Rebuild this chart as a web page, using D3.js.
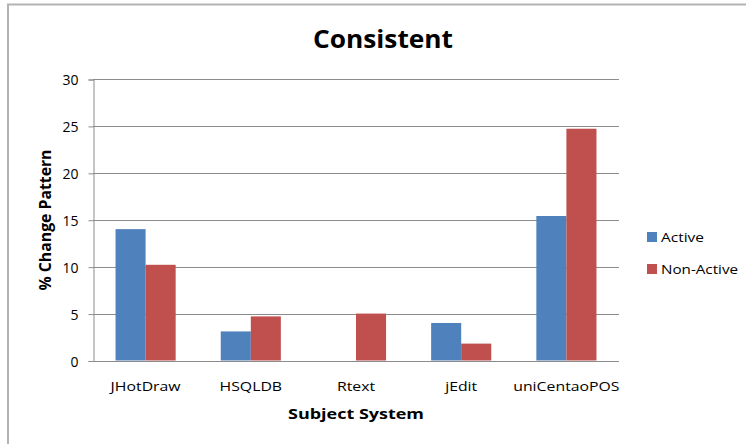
<!DOCTYPE html>
<html>
<head>
<meta charset="utf-8">
<script src="https://cdn.jsdelivr.net/npm/d3@7"></script>
<style>
  html, body { margin: 0; padding: 0; background: #fff; }
  svg { display: block; }
  text { font-family: "Open Sans", "Noto Sans", sans-serif; fill: #000; }
</style>
</head>
<body>
<svg id="chart" width="746" height="444"></svg>
<script>
// Percentage of consistent change patterns per subject system
const categories = ["JHotDraw", "HSQLDB", "Rtext", "jEdit", "uniCentaoPOS"];
const seriesNames = ["Active", "Non-Active"];
const activeValues = [14.0, 3.1, 0, 4.0, 15.4];
const nonActiveValues = [10.2, 4.7, 5.0, 1.8, 24.7];
const yTicks = [0, 5, 10, 15, 20, 25, 30];
const colors = ["#4F81BD", "#C0504D"];

const svg = d3.select("#chart");
const plot = { left: 93, right: 619, top: 79, bottom: 360.5 };

// stretch text horizontally to a target width
function fitWidth(sel, w) {
  sel.attr("textLength", w).attr("lengthAdjust", "spacingAndGlyphs");
}

// chart frame (top and left edges)
svg.append("line").attr("x1", 7).attr("x2", 746).attr("y1", 4.5).attr("y2", 4.5)
  .attr("stroke", "#b3b3b3").attr("stroke-width", 2);
svg.append("line").attr("x1", 8).attr("x2", 8).attr("y1", 4).attr("y2", 444)
  .attr("stroke", "#b3b3b3").attr("stroke-width", 2);

const x0 = d3.scaleBand().domain(categories).range([plot.left, plot.right]);
const bw = x0.bandwidth();
const gap = bw * 0.75 / 3.5;
const x1 = d3.scaleBand().domain(seriesNames).range([gap, bw - gap]);
const y = d3.scaleLinear().domain([0, 30]).range([plot.bottom, plot.top]);

// horizontal gridlines
svg.append("g").selectAll("line").data(yTicks).join("line")
  .attr("x1", plot.left).attr("x2", plot.right)
  .attr("y1", d => Math.round(y(d)) + 0.5).attr("y2", d => Math.round(y(d)) + 0.5)
  .attr("stroke", "#8c8c8c").attr("stroke-width", 1);

// y axis
const yAxis = svg.append("g").attr("transform", `translate(${plot.left + 0.5},0.5)`)
  .call(d3.axisLeft(y).tickValues(yTicks).tickSize(5).tickPadding(10));
yAxis.select(".domain").attr("stroke", "#8c8c8c");
yAxis.selectAll(".tick line").attr("stroke", "#8c8c8c");
yAxis.selectAll(".tick text")
  .style("font-family", "'Open Sans', sans-serif")
  .attr("font-size", 14).attr("fill", "#000").attr("dy", "0.36em");

// bars
const series = [activeValues, nonActiveValues];
const groups = svg.append("g").selectAll("g").data(categories).join("g")
  .attr("transform", d => `translate(${x0(d)},0)`);
groups.selectAll("rect")
  .data((c, i) => seriesNames.map((s, j) => ({ s, v: series[j][i], j })))
  .join("rect")
  .attr("x", d => x1(d.s))
  .attr("width", x1.bandwidth())
  .attr("y", d => y(d.v))
  .attr("height", d => y(0) - y(d.v))
  .attr("fill", d => colors[d.j]);

// x axis line
svg.append("line").attr("x1", plot.left).attr("x2", plot.right)
  .attr("y1", Math.round(plot.bottom) + 0.5).attr("y2", Math.round(plot.bottom) + 0.5)
  .attr("stroke", "#8c8c8c");

// category labels
const xLabels = svg.append("g").selectAll("text").data(categories).join("text")
  .attr("x", d => x0(d) + bw / 2).attr("y", 391)
  .attr("text-anchor", "middle").attr("font-size", 13)
  .text(d => d);
const ref = xLabels.filter(d => d === "JHotDraw").node().getComputedTextLength();
const k = 70 / ref;
xLabels.each(function () {
  fitWidth(d3.select(this), this.getComputedTextLength() * k);
});

// title
fitWidth(svg.append("text").attr("x", 383).attr("y", 48).attr("text-anchor", "middle")
  .attr("font-size", 25).attr("font-weight", "bold").text("Consistent"), 140);

// axis titles
fitWidth(svg.append("text").attr("x", 356).attr("y", 419).attr("text-anchor", "middle")
  .attr("font-size", 15).attr("font-weight", "bold").text("Subject System"), 136);
fitWidth(svg.append("text").attr("transform", "translate(51,220) rotate(-90)")
  .attr("text-anchor", "middle").attr("font-size", 16).attr("font-weight", "bold")
  .text("% Change Pattern"), 141);

// legend
const legend = svg.append("g").selectAll("g").data(seriesNames).join("g")
  .attr("transform", (d, i) => `translate(647,${232 + i * 32})`);
legend.append("rect").attr("width", 10).attr("height", 10)
  .attr("fill", (d, i) => colors[i]);
legend.append("text").attr("x", 14).attr("y", 10).attr("font-size", 13)
  .text(d => d)
  .each(function (d) { fitWidth(d3.select(this), d === "Active" ? 43 : 77); });
</script>
</body>
</html>
